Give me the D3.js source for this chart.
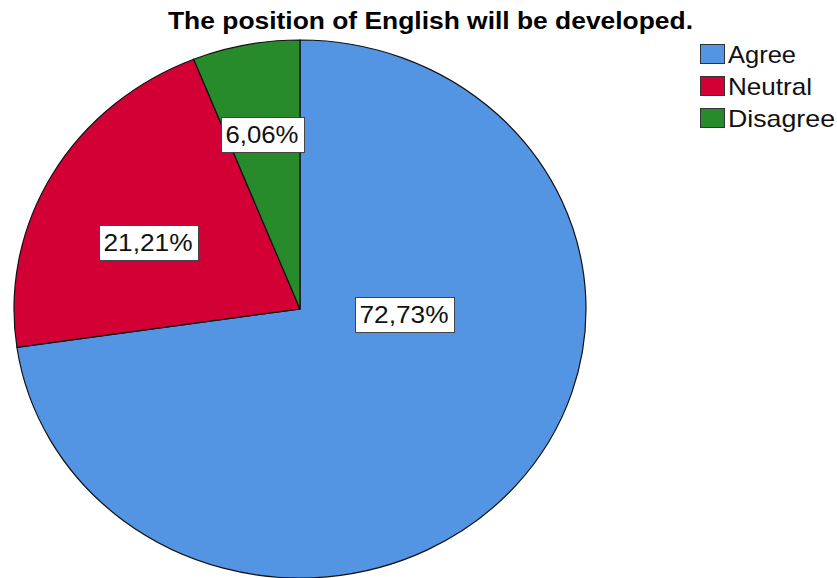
<!DOCTYPE html>
<html><head><meta charset="utf-8">
<script src="https://cdn.jsdelivr.net/npm/d3@7"></script>
<style>body{margin:0;background:#fff}svg{display:block}</style>
</head><body>
<svg id="c" width="837" height="578"></svg>
<script>
const categories = ["Agree", "Neutral", "Disagree"];
const counts = [24, 7, 2];
const percentLabels = ["72,73%", "21,21%", "6,06%"];
const colors = ["#5394E3", "#D20034", "#278A2B"];
// layout (not data): label anchors and text stretch widths
const labelPos = [[404, 315], [148, 243], [262, 135]];
const labelWidths = [89, 89, 73];
const legendWidths = [68, 84, 107];

const svg = d3.select("#c");
const cx = 300, cy = 309, rx = 286, ry = 269;
const font = "'Liberation Sans', Arial, sans-serif";

svg.append("text").attr("x", 430.5).attr("y", 29).attr("text-anchor", "middle")
  .attr("font-family", font).attr("font-weight", "bold").attr("font-size", 23)
  .attr("textLength", 525).attr("lengthAdjust", "spacingAndGlyphs")
  .text("The position of English will be developed.");

const pie = d3.pie().sort(null).value(d => d)(counts);
const arc = d3.arc().innerRadius(0).outerRadius(rx);
const g = svg.append("g").attr("transform", `translate(${cx},${cy}) scale(1,${ry/rx})`);
g.selectAll("path").data(pie).join("path")
  .attr("d", arc).attr("fill", (d, i) => colors[i])
  .attr("stroke", "#111").attr("stroke-width", 1.2)
  .attr("vector-effect", "non-scaling-stroke");

const lg = svg.append("g");
categories.forEach((c, i) => {
  const y = 44 + i * 32;
  lg.append("rect").attr("x", 700.5).attr("y", y + 0.5).attr("width", 24).attr("height", 19)
    .attr("fill", colors[i]).attr("stroke", "#333").attr("stroke-width", 1);
  lg.append("text").attr("x", 728).attr("y", y + 19).attr("font-family", font)
    .attr("font-size", 24).attr("fill", "#111")
    .attr("textLength", legendWidths[i]).attr("lengthAdjust", "spacingAndGlyphs").text(c);
});

percentLabels.forEach((t, i) => {
  const [x, y] = labelPos[i];
  const lab = svg.append("g");
  const w = labelWidths[i];
  lab.append("rect").attr("x", Math.round(x - w / 2 - 5) + 0.5).attr("y", Math.round(y - 18) + 0.5)
    .attr("width", w + 10).attr("height", 35)
    .attr("fill", "#fff").attr("stroke", "#444").attr("stroke-width", 1);
  lab.append("text").attr("x", x - w / 2).attr("y", y + 8)
    .attr("font-family", font).attr("font-size", 24).attr("fill", "#111")
    .attr("textLength", w).attr("lengthAdjust", "spacingAndGlyphs").text(t);
});
</script>
</body></html>
